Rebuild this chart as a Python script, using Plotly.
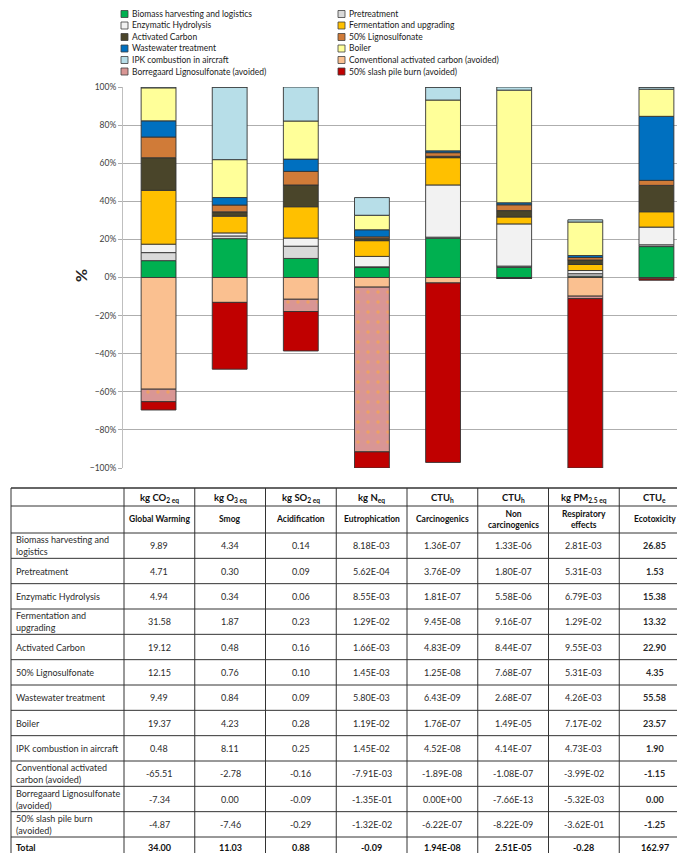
import plotly.graph_objects as go

W, H = 685, 853
FONT = "Lato"

# ---------------- data ----------------
processes = [
    "Biomass harvesting and logistics", "Pretreatment", "Enzymatic Hydrolysis",
    "Fermentation and upgrading", "Activated Carbon", "50% Lignosulfonate",
    "Wastewater treatment", "Boiler", "IPK combustion in aircraft",
    "Conventional activated carbon (avoided)", "Borregaard Lignosulfonate (avoided)",
    "50% slash pile burn (avoided)",
]
table_row_labels = [
    "Biomass harvesting and<br>logistics", "Pretreatment", "Enzymatic Hydrolysis",
    "Fermentation and<br>upgrading", "Activated Carbon", "50% Lignosulfonate",
    "Wastewater treatment", "Boiler", "IPK combustion in aircraft",
    "Conventional activated<br>carbon (avoided)", "Borregaard Lignosulfonate<br>(avoided)",
    "50% slash pile burn<br>(avoided)",
]
categories = ["Global Warming", "Smog", "Acidification", "Eutrophication",
              "Carcinogenics", "Non carcinogenics", "Respiratory effects", "Ecotoxicity"]
category_headers = ["Global Warming", "Smog", "Acidification", "Eutrophication",
                    "Carcinogenics", "Non<br>carcinogenics", "Respiratory<br>effects", "Ecotoxicity"]
units = ["kg CO<sub>2 eq</sub>", "kg O<sub>3 eq</sub>", "kg SO<sub>2 eq</sub>", "kg N<sub>eq</sub>",
         "CTU<sub>h</sub>", "CTU<sub>h</sub>", "kg PM<sub>2.5 eq</sub>", "CTU<sub>e</sub>"]

global_warming = [9.89, 4.71, 4.94, 31.58, 19.12, 12.15, 9.49, 19.37, 0.48, -65.51, -7.34, -4.87]
smog = [4.34, 0.30, 0.34, 1.87, 0.48, 0.76, 0.84, 4.23, 8.11, -2.78, 0.00, -7.46]
acidification = [0.14, 0.09, 0.06, 0.23, 0.16, 0.10, 0.09, 0.28, 0.25, -0.16, -0.09, -0.29]
eutrophication = [8.18e-3, 5.62e-4, 8.55e-3, 1.29e-2, 1.66e-3, 1.45e-3, 5.80e-3, 1.19e-2,
                  1.45e-2, -7.91e-3, -1.35e-1, -1.32e-2]
carcinogenics = [1.36e-7, 3.76e-9, 1.81e-7, 9.45e-8, 4.83e-9, 1.25e-8, 6.43e-9, 1.76e-7,
                 4.52e-8, -1.89e-8, 0.0, -6.22e-7]
non_carcinogenics = [1.33e-6, 1.80e-7, 5.58e-6, 9.16e-7, 8.44e-7, 7.68e-7, 2.68e-7, 1.49e-5,
                     4.14e-7, -1.08e-7, -7.66e-13, -8.22e-9]
respiratory_effects = [2.81e-3, 5.31e-3, 6.79e-3, 1.29e-2, 9.55e-3, 5.31e-3, 4.26e-3, 7.17e-2,
                       4.73e-3, -3.99e-2, -5.32e-3, -3.62e-1]
ecotoxicity = [26.85, 1.53, 15.38, 13.32, 22.90, 4.35, 55.58, 23.57, 1.90, -1.15, 0.00, -1.25]
totals = [34.00, 11.03, 0.88, -0.09, 1.94e-8, 2.51e-5, -0.28, 162.97]

series = [global_warming, smog, acidification, eutrophication,
          carcinogenics, non_carcinogenics, respiratory_effects, ecotoxicity]

# ---------------- styles ----------------
value_formats = ["{:.2f}", "{:.2f}", "{:.2f}", "{:.2E}", "{:.2E}", "{:.2E}", "{:.2E}", "{:.2f}"]
total_formats = ["{:.2f}", "{:.2f}", "{:.2f}", "{:.2f}", "{:.2E}", "{:.2E}", "{:.2f}", "{:.2f}"]
colors = ["#00b050", "#d9d9d9", "#f2f2f2", "#ffc000", "#4a452a", "#d07b38",
          "#0070c0", "#ffff99", "#b7dee8", "#fac090", "#d99694", "#c00000"]

# percentage of the larger of the positive / negative stack for each category
pct = []
for vals in series:
    pos = sum(v for v in vals if v > 0)
    neg = -sum(v for v in vals if v < 0)
    scale = max(pos, neg)
    pct.append([v / scale * 100 for v in vals])


def px(x):
    return x / W


def py(y):
    return 1 - y / H


fig = go.Figure()
for i, name in enumerate(processes):
    marker = dict(color=colors[i], line=dict(color="#333333", width=0.9))
    if i == 10:
        marker["pattern"] = dict(shape=".", fgcolor="#eea066", bgcolor=colors[i],
                                 size=10, solidity=0.1, fillmode="replace")
    fig.add_trace(go.Bar(
        name=name, x=categories, y=[pct[c][i] for c in range(len(categories))],
        marker=marker, showlegend=False,
    ))

shapes = []
annotations = []

# ---------- legend (drawn manually, two columns) ----------
leg_cols_x = [113, 330]
leg_rows_y = [6, 17.5, 29, 40.5, 52, 63.5]
for i, name in enumerate(processes):
    r, c = i // 2, i % 2
    x0 = leg_cols_x[c]
    yc = leg_rows_y[r]
    shapes.append(dict(type="rect", xref="paper", yref="paper",
                       x0=px(x0), x1=px(x0 + 7), y0=py(yc + 3.5), y1=py(yc - 3.5),
                       fillcolor=colors[i], line=dict(color="#404040", width=0.8)))
    annotations.append(dict(text=name, x=px(x0 + 8.5), y=py(yc), xref="paper", yref="paper",
                            xanchor="left", yanchor="middle", showarrow=False,
                            font=dict(family=FONT, size=8.5, color="#1a1a1a")))

# "%" axis label
annotations.append(dict(text="<b>%</b>", x=px(72), y=py(268), xref="paper", yref="paper",
                        textangle=-90, showarrow=False, xanchor="center", yanchor="middle",
                        font=dict(family=FONT, size=16, color="#262626")))

# ---------- table ----------
t_left, t_first, t_right = 3, 116, 682
col_w = (t_right - t_first) / len(categories)
col_edges = [t_left] + [t_first + k * col_w for k in range(len(categories) + 1)]
h_top, h1_bot, h2_bot = 480, 498, 525
row_h = (829 - h2_bot) / len(processes)
row_edges = [h2_bot + k * row_h for k in range(len(processes) + 1)]
t_bottom = 850
h_lines = [h_top, h1_bot] + row_edges + [t_bottom]

line_col = "#333333"
for yv in h_lines:
    w = 1.6 if yv in (h_top, t_bottom) else 1
    shapes.append(dict(type="line", xref="paper", yref="paper",
                       x0=px(t_left), x1=px(t_right), y0=py(yv), y1=py(yv),
                       line=dict(color=line_col, width=w)))
for xv in col_edges:
    shapes.append(dict(type="line", xref="paper", yref="paper",
                       x0=px(xv), x1=px(xv), y0=py(h_top), y1=py(t_bottom),
                       line=dict(color=line_col, width=1)))

txt = "#2b2b2b"
for k in range(len(categories)):
    xc = px(t_first + (k + 0.5) * col_w)
    annotations.append(dict(text="<b>" + units[k] + "</b>", x=xc, y=py((h_top + h1_bot) / 2 + 1),
                            xref="paper", yref="paper", showarrow=False,
                            xanchor="center", yanchor="middle",
                            font=dict(family=FONT, size=9.5, color="#111111")))
    annotations.append(dict(text="<b>" + category_headers[k] + "</b>", x=xc,
                            y=py((h1_bot + h2_bot) / 2), xref="paper", yref="paper",
                            showarrow=False, xanchor="center", yanchor="middle",
                            font=dict(family=FONT, size=8.5, color="#111111")))

for r, lab in enumerate(table_row_labels):
    yc = py((row_edges[r] + row_edges[r + 1]) / 2)
    annotations.append(dict(text=lab, x=px(t_left + 3), y=yc, xref="paper", yref="paper",
                            showarrow=False, xanchor="left", yanchor="middle", align="left",
                            font=dict(family=FONT, size=9, color=txt)))
    for k in range(len(categories)):
        s = value_formats[k].format(series[k][r])
        if k == len(categories) - 1:
            s = "<b>" + s + "</b>"
        annotations.append(dict(text=s, x=px(t_first + (k + 0.5) * col_w), y=yc,
                                xref="paper", yref="paper", showarrow=False,
                                xanchor="center", yanchor="middle",
                                font=dict(family=FONT, size=9, color=txt)))

yc_tot = py((row_edges[-1] + t_bottom) / 2)
annotations.append(dict(text="<b>Total</b>", x=px(t_left + 3), y=yc_tot, xref="paper",
                        yref="paper", showarrow=False, xanchor="left", yanchor="middle",
                        font=dict(family=FONT, size=9, color="#111111")))
for k in range(len(categories)):
    annotations.append(dict(text="<b>" + total_formats[k].format(totals[k]) + "</b>",
                            x=px(t_first + (k + 0.5) * col_w), y=yc_tot,
                            xref="paper", yref="paper", showarrow=False,
                            xanchor="center", yanchor="middle",
                            font=dict(family=FONT, size=9, color="#111111")))

fig.update_layout(
    width=W, height=H,
    margin=dict(l=0, r=0, t=0, b=0),
    paper_bgcolor="white", plot_bgcolor="white",
    barmode="relative", bargap=0.51,
    showlegend=False,
    font=dict(family=FONT, size=9, color="#333333"),
    xaxis=dict(domain=[px(115), px(684)], showticklabels=False, showgrid=False,
               zeroline=False, showline=False, ticks="", automargin=False),
    yaxis=dict(domain=[py(460), py(79)], range=[-100, 100], dtick=20, ticksuffix="%",
               showgrid=True, gridcolor="#aeaeae", gridwidth=1.4, zeroline=False,
               showline=True, mirror=True, linecolor="#bfbfbf", linewidth=1,
               ticks="outside", ticklen=4, tickcolor="#aeaeae",
               tickfont=dict(family=FONT, size=8.5, color="#404040"), automargin=False),
    shapes=shapes,
    annotations=annotations,
)

fig.write_html("out.html")
